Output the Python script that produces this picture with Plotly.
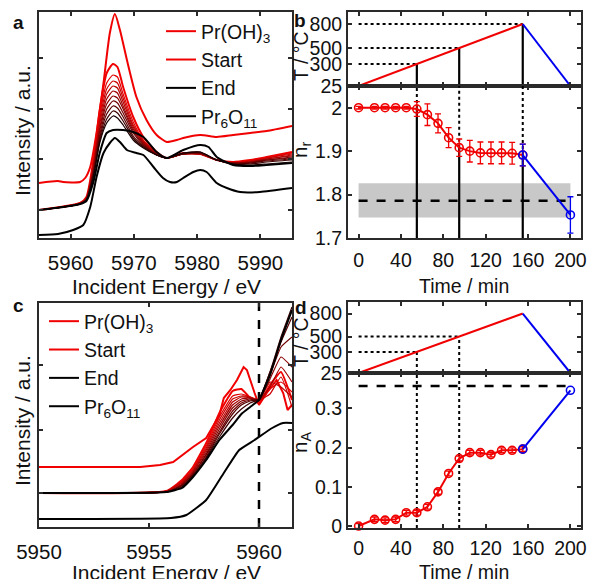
import plotly.graph_objects as go

RED = "#f00000"
BLUE = "#0000f0"
BLACK = "#000000"
AX = "#2a2a2a"
FONT = "Liberation Sans, Arial, sans-serif"

# ---------------- Panel a : XANES spectra (a.u.) ----------------
E_a_ohx = [5955, 5958.0, 5958.8, 5961.5, 5962.3, 5963.1, 5964.1, 5965.2, 5966.2, 5967.0, 5967.8,
           5968.9, 5970.4, 5972.0, 5973.6, 5975.2, 5976.8, 5977.8, 5980.5, 5983.1, 5985.7, 5988.4, 5991, 5995]
I_a_ohx = [0.55, 0.57, 0.56, 0.56, 0.60, 0.71, 1.05, 1.55, 2.05, 2.24, 2.08,
           1.78, 1.41, 1.18, 1.03, 0.96, 0.98, 1.00, 1.03, 1.01, 1.03, 1.05, 1.07, 1.12]

E_a_grid = [5955, 5961.5, 5962.5, 5963.6, 5964.6, 5965.7, 5966.7, 5967.4, 5968.3, 5969.9,
            5971.5, 5973.6, 5975.2, 5977.8, 5980.5, 5983.1, 5985.7, 5988.4, 5991, 5995]
I_a_start = [0.28, 0.35, 0.41, 0.78, 1.28, 1.65, 1.74, 1.71, 1.51, 1.21, 1.01, 0.86, 0.80, 0.85, 0.84, 0.78, 0.76, 0.78, 0.81, 0.86]
I_a_mid = [
    [0.28, 0.35, 0.40, 0.75, 1.22, 1.55, 1.63, 1.61, 1.44, 1.16, 0.98, 0.85, 0.80, 0.84, 0.84, 0.78, 0.76, 0.77, 0.80, 0.85],
    [0.28, 0.35, 0.40, 0.73, 1.18, 1.49, 1.57, 1.55, 1.40, 1.13, 0.97, 0.85, 0.80, 0.84, 0.84, 0.78, 0.75, 0.77, 0.80, 0.84],
    [0.28, 0.35, 0.40, 0.72, 1.14, 1.44, 1.52, 1.50, 1.36, 1.11, 0.96, 0.84, 0.80, 0.84, 0.84, 0.78, 0.75, 0.76, 0.79, 0.83],
    [0.28, 0.34, 0.39, 0.70, 1.10, 1.39, 1.47, 1.45, 1.32, 1.09, 0.95, 0.84, 0.80, 0.84, 0.84, 0.78, 0.75, 0.76, 0.79, 0.82],
    [0.28, 0.34, 0.39, 0.68, 1.07, 1.34, 1.42, 1.40, 1.29, 1.07, 0.94, 0.84, 0.80, 0.84, 0.85, 0.78, 0.75, 0.76, 0.78, 0.81],
    [0.28, 0.34, 0.39, 0.66, 1.03, 1.29, 1.37, 1.35, 1.25, 1.05, 0.93, 0.83, 0.80, 0.84, 0.85, 0.78, 0.75, 0.75, 0.78, 0.80],
    [0.28, 0.34, 0.38, 0.64, 1.00, 1.24, 1.32, 1.30, 1.21, 1.02, 0.92, 0.83, 0.80, 0.84, 0.85, 0.78, 0.74, 0.75, 0.77, 0.79],
    [0.28, 0.34, 0.38, 0.62, 0.97, 1.19, 1.27, 1.25, 1.17, 1.00, 0.91, 0.83, 0.80, 0.85, 0.86, 0.78, 0.74, 0.74, 0.76, 0.78],
    [0.28, 0.34, 0.38, 0.61, 0.95, 1.15, 1.22, 1.20, 1.13, 0.98, 0.90, 0.83, 0.80, 0.85, 0.86, 0.78, 0.74, 0.73, 0.74, 0.76],
]
MID_COLORS = ["#e00000", "#cc0000", "#b80000", "#a00000", "#880000", "#700000", "#580000", "#3c0000", "#1a0000"]

E_a_end = [5955, 5958.8, 5961.5, 5962.5, 5963.6, 5964.6, 5965.7, 5966.7, 5968.3, 5969.9, 5971.5, 5973.6,
           5975.2, 5977.8, 5980.5, 5981.8, 5983.1, 5985.7, 5988.4, 5991, 5995]
I_a_end = [0.28, 0.31, 0.34, 0.37, 0.56, 0.85, 1.05, 1.08, 1.08, 1.06, 1.01, 0.86,
           0.80, 0.88, 0.93, 0.91, 0.81, 0.73, 0.72, 0.73, 0.75]

E_a_pr6 = [5955, 5958.0, 5960.4, 5962.0, 5963.1, 5964.1, 5965.2, 5966.2, 5967.0, 5967.8, 5968.9, 5970.4,
           5971.5, 5973.1, 5974.6, 5975.7, 5976.8, 5977.8, 5979.4, 5980.5, 5981.5, 5983.1, 5984.7,
           5986.8, 5989.9, 5995]
I_a_pr6 = [0.03, 0.04, 0.08, 0.13, 0.31, 0.61, 0.85, 0.95, 1.00, 0.96, 0.88, 0.85,
           0.83, 0.71, 0.60, 0.56, 0.56, 0.60, 0.66, 0.68, 0.66, 0.55, 0.50,
           0.46, 0.46, 0.50]

# ---------------- Panel c : pre-edge zoom (a.u.) ----------------
E_c_ohx = [5950, 5954.6, 5955.5, 5956.1, 5957.0, 5957.6, 5958.2, 5958.4, 5958.7, 5959.0, 5959.3,
           5959.45, 5959.8, 5960.0, 5960.35, 5960.8, 5961.1, 5961.3, 5961.5]
I_c_ohx = [0.60, 0.60, 0.62, 0.65, 0.80, 0.89, 1.12, 1.29, 1.37, 1.47, 1.60,
           1.57, 1.34, 1.22, 1.34, 1.47, 1.34, 1.17, 1.22]

E_c_grid = [5950, 5955.8, 5956.5, 5957.0, 5957.6, 5958.2, 5958.8, 5959.2, 5959.6, 5960.0, 5960.5, 5961.0, 5961.5]
I_c_start = [0.34, 0.36, 0.47, 0.60, 0.84, 1.14, 1.36, 1.38, 1.29, 1.24, 1.42, 1.55, 1.27]
I_c_mid = [
    [0.34, 0.36, 0.46, 0.58, 0.81, 1.10, 1.31, 1.33, 1.30, 1.26, 1.38, 1.45, 1.35],
    [0.34, 0.36, 0.45, 0.57, 0.79, 1.07, 1.28, 1.31, 1.30, 1.27, 1.33, 1.50, 1.20],
    [0.34, 0.36, 0.44, 0.56, 0.77, 1.04, 1.25, 1.30, 1.29, 1.26, 1.45, 1.40, 1.30],
    [0.34, 0.35, 0.43, 0.55, 0.75, 1.01, 1.22, 1.28, 1.29, 1.27, 1.40, 1.60, 1.45],
    [0.34, 0.35, 0.42, 0.54, 0.73, 0.98, 1.19, 1.26, 1.28, 1.27, 1.48, 1.70, 1.60],
    [0.34, 0.35, 0.42, 0.53, 0.72, 0.95, 1.16, 1.24, 1.27, 1.28, 1.52, 1.80, 1.90],
    [0.34, 0.35, 0.41, 0.52, 0.70, 0.93, 1.13, 1.22, 1.26, 1.28, 1.55, 1.85, 2.10],
    [0.34, 0.35, 0.40, 0.51, 0.69, 0.90, 1.09, 1.18, 1.24, 1.28, 1.55, 1.90, 2.20],
]
I_c_end = [0.34, 0.35, 0.39, 0.50, 0.67, 0.87, 1.02, 1.13, 1.20, 1.27, 1.52, 1.87, 2.17]

E_c_pr6 = [5950, 5956.0, 5956.7, 5957.6, 5958.4, 5959.1, 5959.8, 5960.6, 5961.1, 5961.5]
I_c_pr6 = [0.08, 0.09, 0.12, 0.27, 0.54, 0.77, 0.87, 0.99, 1.04, 1.04]
C_EDGE_E = 5960

# ---------------- Panels b / d : temperature programme ----------------
t_ramp_heat = [0, 155]
T_ramp_heat = [25, 800]
t_ramp_cool = [155, 200]
T_ramp_cool = [800, 25]
mark_t_b = [55, 95, 155]
mark_T_b = [300, 500, 800]
mark_t_d = [55, 95]
mark_T_d = [300, 500]

t_heat = [0, 15, 25, 35, 45, 55, 65, 75, 85, 95, 105, 115, 125, 135, 145, 155]
nr_heat = [2.0, 2.0, 2.0, 2.0, 2.0, 1.997, 1.984, 1.964, 1.931, 1.908, 1.900, 1.896, 1.896, 1.896, 1.895, 1.891]
nr_heat_err = [0.003, 0.003, 0.003, 0.003, 0.003, 0.017, 0.025, 0.022, 0.023, 0.02, 0.025, 0.025, 0.025, 0.025, 0.025, 0.025]
t_cool = [155, 200]
nr_cool = [1.891, 1.753]
nr_cool_err = [0.025, 0.042]
nr_ref, nr_ref_lo, nr_ref_hi = 1.786, 1.747, 1.826

na_heat = [0.0, 0.017, 0.015, 0.017, 0.034, 0.034, 0.049, 0.087, 0.134, 0.172, 0.187, 0.187, 0.182, 0.193, 0.193, 0.196]
na_heat_err = [0.006] * 16
na_cool = [0.196, 0.346]
na_ref = 0.357

T_RANGE = [25, 950]
NR_RANGE = [1.7, 2.05]
NA_RANGE = [-0.005, 0.39]

W, H = 589, 579
def dx(a, b):
    return [a / W, b / W]
def dy(top, bot):
    return [1 - bot / H, 1 - top / H]

fig = go.Figure()

def line(x, y, xa, ya, color, width=1.8, dash=None, name=None, legend=None, shape="spline", smooth=0.6):
    fig.add_trace(go.Scatter(x=x, y=y, xaxis=xa, yaxis=ya, mode="lines",
                             line=dict(color=color, width=width, dash=dash, shape=shape,
                                       smoothing=smooth if shape == "spline" else None),
                             name=name, showlegend=name is not None,
                             legend=legend, hoverinfo="skip"))

# panel a
line(E_a_ohx, I_a_ohx, "x", "y", RED, 2, name="Pr(OH)<sub>3</sub>", legend="legend")
line(E_a_grid, I_a_start, "x", "y", RED, 2, name="Start", legend="legend")
for vals, col in zip(I_a_mid, MID_COLORS):
    line(E_a_grid, vals, "x", "y", col, 1.2)
line(E_a_end, I_a_end, "x", "y", BLACK, 2, name="End", legend="legend")
line(E_a_pr6, I_a_pr6, "x", "y", BLACK, 2, name="Pr<sub>6</sub>O<sub>11</sub>", legend="legend")

# panel c
line([C_EDGE_E, C_EDGE_E], [0, 2.24], "x2", "y2", BLACK, 2.5, dash="dash", shape="linear")
line(E_c_ohx, I_c_ohx, "x2", "y2", RED, 2, name="Pr(OH)<sub>3</sub>", legend="legend2", shape="linear")
line(E_c_grid, I_c_start, "x2", "y2", RED, 2, name="Start", legend="legend2", smooth=0.4)
for vals, col in zip(I_c_mid, MID_COLORS):
    line(E_c_grid, vals, "x2", "y2", col, 1.2, smooth=0.4)
line(E_c_grid, I_c_end, "x2", "y2", BLACK, 2, name="End", legend="legend2", smooth=0.4)
line(E_c_pr6, I_c_pr6, "x2", "y2", BLACK, 2, name="Pr<sub>6</sub>O<sub>11</sub>", legend="legend2", smooth=0.4)

# panel b top
for tt, TT in zip(mark_t_b, mark_T_b):
    line([0, tt], [TT, TT], "x3", "y3", BLACK, 2, dash="dot", shape="linear")
    line([tt, tt], [T_RANGE[0], TT], "x3", "y3", BLACK, 2.2, shape="linear")
line(t_ramp_heat, T_ramp_heat, "x3", "y3", RED, 2, shape="linear")
line(t_ramp_cool, T_ramp_cool, "x3", "y3", BLUE, 2, shape="linear")

# panel b bottom
fig.add_shape(type="rect", xref="x4", yref="y4", x0=0, x1=200, y0=nr_ref_lo, y1=nr_ref_hi,
              fillcolor="#c8c8c8", line_width=0, layer="below")
line([0, 200], [nr_ref, nr_ref], "x4", "y4", BLACK, 2.5, dash="dash", shape="linear")
for tt in mark_t_b:
    nv = nr_heat[t_heat.index(tt)]
    line([tt, tt], [nv, NR_RANGE[1]], "x4", "y4", BLACK, 2, dash="dot", shape="linear")
    line([tt, tt], [NR_RANGE[0], nv], "x4", "y4", BLACK, 2.2, shape="linear")
fig.add_trace(go.Scatter(x=t_heat, y=nr_heat, xaxis="x4", yaxis="y4", mode="lines+markers",
                         line=dict(color=RED, width=2),
                         marker=dict(symbol="circle-open", size=8, color=RED, line=dict(width=1.6)),
                         error_y=dict(type="data", array=nr_heat_err, color=RED, thickness=1.3, width=3),
                         showlegend=False, hoverinfo="skip", cliponaxis=False))
fig.add_trace(go.Scatter(x=t_cool, y=nr_cool, xaxis="x4", yaxis="y4", mode="lines+markers",
                         line=dict(color=BLUE, width=2),
                         marker=dict(symbol="circle-open", size=8, color=BLUE, line=dict(width=1.6)),
                         error_y=dict(type="data", array=nr_cool_err, color=BLUE, thickness=1.3, width=3),
                         showlegend=False, hoverinfo="skip", cliponaxis=False))

# panel d top
for tt, TT in zip(mark_t_d, mark_T_d):
    line([0, tt], [TT, TT], "x5", "y5", BLACK, 2, dash="dot", shape="linear")
    line([tt, tt], [T_RANGE[0], TT], "x5", "y5", BLACK, 2, dash="dot", shape="linear")
line(t_ramp_heat, T_ramp_heat, "x5", "y5", RED, 2, shape="linear")
line(t_ramp_cool, T_ramp_cool, "x5", "y5", BLUE, 2, shape="linear")

# panel d bottom
line([0, 200], [na_ref, na_ref], "x6", "y6", BLACK, 2.5, dash="dash", shape="linear")
for tt in mark_t_d:
    line([tt, tt], NA_RANGE, "x6", "y6", BLACK, 2, dash="dot", shape="linear")
fig.add_trace(go.Scatter(x=t_heat, y=na_heat, xaxis="x6", yaxis="y6", mode="lines+markers",
                         line=dict(color=RED, width=2),
                         marker=dict(symbol="circle-open", size=8, color=RED, line=dict(width=1.6)),
                         error_y=dict(type="data", array=na_heat_err, color=RED, thickness=1.3, width=3),
                         showlegend=False, hoverinfo="skip", cliponaxis=False))
fig.add_trace(go.Scatter(x=t_cool, y=na_cool, xaxis="x6", yaxis="y6", mode="lines+markers",
                         line=dict(color=BLUE, width=2),
                         marker=dict(symbol="circle-open", size=8, color=BLUE, line=dict(width=1.6)),
                         showlegend=False, hoverinfo="skip", cliponaxis=False))

FS_AC = 20.5
FS_BD = 19.5
base = dict(showline=True, linecolor=AX, linewidth=2, mirror="ticks", ticks="inside",
            ticklen=4, tickwidth=1.5, tickcolor=AX, showgrid=False, zeroline=False,
            automargin=False)

def ax(fs, **kw):
    d = dict(base)
    d["tickfont"] = dict(size=fs, color="#111")
    d.update(kw)
    return d

XB = dx(348, 581)
TIME_TICKS = [0, 40, 80, 120, 160, 200]

fig.update_layout(
    width=W, height=H, margin=dict(l=0, r=0, t=0, b=0),
    paper_bgcolor="white", plot_bgcolor="white",
    font=dict(family=FONT, size=20, color="#111"),
    xaxis=ax(FS_AC, domain=dx(39, 292), range=[5955, 5995], tickvals=[5960, 5970, 5980, 5990],
             anchor="y", ticklabelstandoff=5),
    yaxis=ax(FS_AC, domain=dy(12, 238), range=[0, 2.26], tickvals=[0.28, 0.79, 1.29, 1.80],
             showticklabels=False, anchor="x"),
    xaxis2=ax(FS_AC, domain=dx(39, 292), range=[5950, 5961.5], tickvals=[5950, 5955, 5960],
              anchor="y2", ticklabelstandoff=5),
    yaxis2=ax(FS_AC, domain=dy(303, 527), range=[0, 2.24], tickvals=[0.34, 0.97, 1.62],
              showticklabels=False, anchor="x2"),
    xaxis3=ax(FS_BD, domain=XB, range=[-10, 210], tickvals=TIME_TICKS, showticklabels=False, anchor="y3"),
    yaxis3=ax(FS_BD, domain=dy(12, 86), range=T_RANGE, tickvals=[25, 300, 500, 800], anchor="x3"),
    xaxis4=ax(FS_BD, domain=XB, range=[-10, 210], tickvals=TIME_TICKS, anchor="y4", ticklabelstandoff=4),
    yaxis4=ax(FS_BD, domain=dy(86, 238), range=NR_RANGE, tickvals=[1.7, 1.8, 1.9, 2.0],
              ticktext=["1.7", "1.8", "1.9", "2"], anchor="x4"),
    xaxis5=ax(FS_BD, domain=XB, range=[-10, 210], tickvals=TIME_TICKS, showticklabels=False, anchor="y5"),
    yaxis5=ax(FS_BD, domain=dy(302, 373), range=T_RANGE, tickvals=[25, 300, 500, 800], anchor="x5"),
    xaxis6=ax(FS_BD, domain=XB, range=[-10, 210], tickvals=TIME_TICKS, anchor="y6", ticklabelstandoff=2),
    yaxis6=ax(FS_BD, domain=dy(373, 528), range=NA_RANGE, tickvals=[0, 0.1, 0.2, 0.3],
              ticktext=["0", "0.1", "0.2", "0.3"], anchor="x6"),
    legend=dict(x=161 / W, y=1 - 12 / H, xanchor="left", yanchor="top", bgcolor="rgba(0,0,0,0)",
                font=dict(size=19.5), tracegroupgap=0),
    legend2=dict(x=44 / W, y=1 - 302 / H, xanchor="left", yanchor="top", bgcolor="rgba(0,0,0,0)",
                 font=dict(size=19.5), tracegroupgap=0),
)

# axis titles and panel letters (text, x px, y px, size, angle, bold)
labels = [
    ("Incident Energy / eV", 166, 286, 21, 0, False),
    ("Incident Energy / eV", 166, 572, 21, 0, False),
    ("Time / min", 464, 286, FS_BD, 0, False),
    ("Time / min", 464, 572, FS_BD, 0, False),
    ("Intensity / a.u.", 22, 131, 21, -90, False),
    ("Intensity / a.u.", 22, 421, 21, -90, False),
    ("T / °C", 301, 56, FS_BD, -90, False),
    ("T / °C", 301, 342, FS_BD, -90, False),
    ("n<sub>r</sub>", 301, 150, FS_BD + 1, -90, False),
    ("n<sub>A</sub>", 301, 443, FS_BD + 1, -90, False),
    ("a", 18, 23, 19, 0, True),
    ("b", 300, 20, 19, 0, True),
    ("c", 18, 305, 19, 0, True),
    ("d", 301, 307, 19, 0, True),
]
for txt, px, py, fs, ang, bold in labels:
    fig.add_annotation(text=f"<b>{txt}</b>" if bold else txt, x=px / W, y=1 - py / H,
                       xref="paper", yref="paper", showarrow=False, textangle=ang,
                       font=dict(size=fs, color="#111"), xanchor="center", yanchor="middle")

fig.write_html("out.html", config={"displayModeBar": False},
               post_script="document.body.style.margin='0';")
